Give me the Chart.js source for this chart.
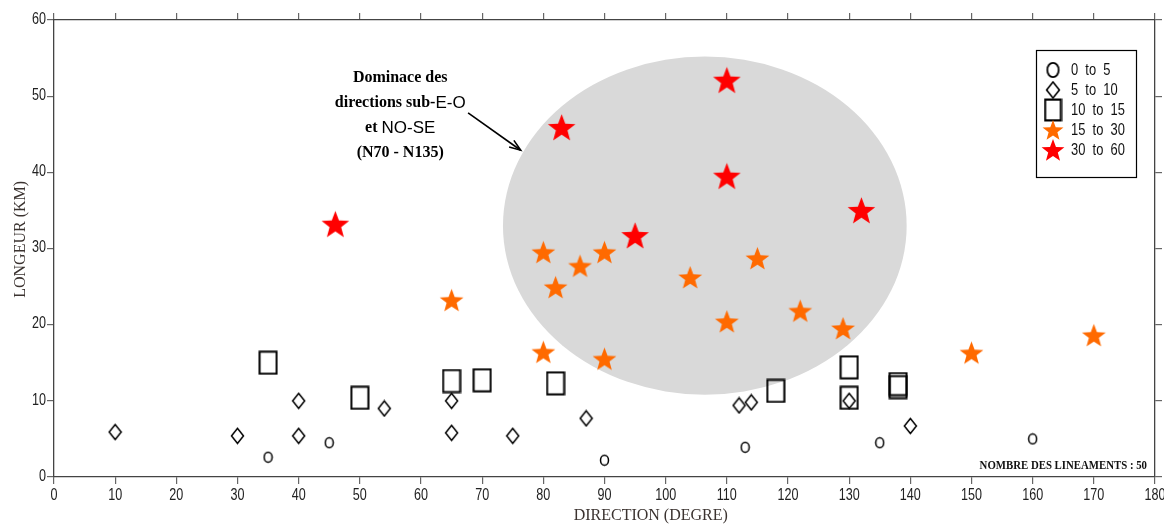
<!DOCTYPE html>
<html><head><meta charset="utf-8">
<script src="https://cdn.jsdelivr.net/npm/chart.js@4/dist/chart.umd.min.js"></script>
<style>html,body{margin:0;padding:0;background:#fff;overflow:hidden;}</style>
</head><body>
<canvas id="c" width="1164" height="525" style="width:1164px;height:525px;display:block"></canvas>
<script>
// ---- data (direction in degrees, length in km) ----
const classLabels = ['0 to 5', '5 to 10', '10 to 15', '15 to 30', '30 to 60'];
const dir0_5   = [35, 45, 90, 113, 135, 160];
const len0_5   = [2.6, 4.5, 2.2, 3.9, 4.5, 5.0];
const dir5_10  = [10, 30, 40, 40, 54, 65, 65, 75, 87, 112, 114, 130, 140];
const len5_10  = [5.9, 5.4, 10, 5.4, 9, 10, 5.8, 5.4, 7.7, 9.4, 9.8, 10, 6.7];
const dir10_15 = [35, 50, 65, 70, 82, 118, 130, 130, 138, 138];
const len10_15 = [15, 10.4, 12.6, 12.7, 12.3, 11.3, 14.4, 10.4, 12.2, 11.8];
const dir15_30 = [65, 80, 80, 82, 86, 90, 90, 104, 110, 115, 122, 129, 150, 170];
const len15_30 = [23.2, 29.5, 16.4, 24.9, 27.7, 29.5, 15.5, 26.2, 20.4, 28.7, 21.8, 19.5, 16.3, 18.6];
const dir30_60 = [46, 83, 95, 110, 110, 132];
const len30_60 = [33.2, 45.9, 31.7, 52.1, 39.5, 35.0];
const xTicks = [0,10,20,30,40,50,60,70,80,90,100,110,120,130,140,150,160,170,180];
const yTicks = [0,10,20,30,40,50,60];
const lineamentCount = 50;

// ---- marker images ----
function mk(w, h, fn) {
  const cv = document.createElement('canvas'); cv.width = w; cv.height = h;
  const g = cv.getContext('2d'); fn(g, w, h); return cv;
}
function ellipseImg(w, h, lw) {
  return mk(w, h, (g) => { g.strokeStyle = '#000'; g.lineWidth = lw; g.beginPath();
    g.ellipse(w/2, h/2, w/2 - lw, h/2 - lw, 0, 0, Math.PI*2); g.stroke(); });
}
function diamondImg(w, h, lw) {
  return mk(w, h, (g) => { g.strokeStyle = '#000'; g.lineWidth = lw; g.beginPath();
    g.moveTo(w/2, lw); g.lineTo(w - lw, h/2); g.lineTo(w/2, h - lw); g.lineTo(lw, h/2); g.closePath(); g.stroke(); });
}
function rectImg(w, h, lw) {
  return mk(w, h, (g) => { g.strokeStyle = '#000'; g.lineWidth = lw; g.strokeRect(lw/2+0.5, lw/2+0.5, w - lw - 1, h - lw - 1); });
}
function starImg(R, color) {
  const s = Math.ceil(R*2 + 2);
  return mk(s, s, (g) => { g.fillStyle = color; g.beginPath();
    const cx = s/2, cy = s/2 + R*0.08, r = R*0.42;
    for (let i = 0; i < 10; i++) {
      const a = -Math.PI/2 + i*Math.PI/5; const rr = i % 2 ? r : R;
      const px = cx + rr*Math.cos(a), py = cy + rr*Math.sin(a);
      i ? g.lineTo(px, py) : g.moveTo(px, py);
    }
    g.closePath(); g.fill(); });
}
const mCircle = ellipseImg(11, 13, 1.5);
const mDiamond = diamondImg(15, 18, 1.5);
const mRect = rectImg(20, 25, 2);
const mStarO = starImg(12.5, '#ff6a00');
const mStarR = starImg(14.5, '#ff0000');
const legCircle = ellipseImg(15, 18, 1.8);
const legDiamond = diamondImg(16, 19, 1.6);
const legRect = rectImg(19, 24, 2.2);
const legStarO = starImg(11, '#ff6a00');
const legStarR = starImg(12, '#ff0000');

function pts(xs, ys) { return xs.map((x, i) => ({x: x, y: ys[i]})); }

const sansFam = '"Liberation Sans", Arial, sans-serif';
const serif = '"Liberation Serif", "Times New Roman", serif';

// narrow text helper (horizontally condensed like Arial Narrow)
function narrowText(ctx, txt, x, y, align, sx) {
  const w = ctx.measureText(txt).width * sx;
  let left = align === 'center' ? x - w/2 : align === 'right' ? x - w : x;
  ctx.save(); ctx.textAlign = 'left'; ctx.translate(left, y); ctx.scale(sx, 1);
  ctx.fillText(txt, 0, 0); ctx.restore();
}

// ---- annotation anchors (data coordinates) ----
const ellipseCenter = {x: 106.4, y: 33.0};
const ellipseRadius = {x: 33.0, y: 22.2};
const noteAnchor = {x: 56.6, y: 52.4};
const arrowFrom = {x: 67.7, y: 47.8};
const arrowTo = {x: 76.3, y: 42.9};

const overlay = {
  id: 'overlay',
  beforeDatasetsDraw(chart) {
    const {ctx, scales: {x, y}} = chart;
    const cx = x.getPixelForValue(ellipseCenter.x), cy = y.getPixelForValue(ellipseCenter.y);
    const rx = x.getPixelForValue(ellipseCenter.x + ellipseRadius.x) - cx;
    const ry = cy - y.getPixelForValue(ellipseCenter.y + ellipseRadius.y);
    ctx.save(); ctx.fillStyle = '#d9d9d9'; ctx.beginPath();
    ctx.ellipse(cx, cy, rx, ry, 0, 0, Math.PI*2); ctx.fill(); ctx.restore();
  },
  afterDraw(chart) {
    const {ctx, scales: {x, y}, chartArea: ca} = chart;
    ctx.save();
    // tick labels (condensed)
    ctx.font = '17px ' + sansFam; ctx.fillStyle = '#222'; ctx.textBaseline = 'middle';
    xTicks.forEach(v => narrowText(ctx, String(v), x.getPixelForValue(v), ca.bottom + 18, 'center', 0.74));
    yTicks.forEach(v => narrowText(ctx, String(v), ca.left - 8, y.getPixelForValue(v) - 1, 'right', 0.74));
    // annotation text
    const nx = x.getPixelForValue(noteAnchor.x);
    let ny = y.getPixelForValue(noteAnchor.y);
    const bold = 'bold 16px ' + serif, sans = '17px ' + sansFam;
    const lines = [
      [['Dominace des', bold]],
      [['directions sub-', bold], ['E-O', sans]],
      [['et ', bold], ['NO-SE', sans]],
      [['(N70 - N135)', bold]]
    ];
    ctx.fillStyle = '#000'; ctx.textBaseline = 'middle'; ctx.textAlign = 'left';
    lines.forEach((runs, i) => {
      let w = 0; runs.forEach(r => { ctx.font = r[1]; w += ctx.measureText(r[0]).width; });
      let px = nx - w/2;
      runs.forEach(r => { ctx.font = r[1]; ctx.fillText(r[0], px, ny + i*25); px += ctx.measureText(r[0]).width; });
    });
    // arrow
    const ax1 = x.getPixelForValue(arrowFrom.x), ay1 = y.getPixelForValue(arrowFrom.y);
    const ax2 = x.getPixelForValue(arrowTo.x), ay2 = y.getPixelForValue(arrowTo.y);
    ctx.strokeStyle = '#000'; ctx.lineWidth = 1.6;
    ctx.beginPath(); ctx.moveTo(ax1, ay1); ctx.lineTo(ax2, ay2); ctx.stroke();
    const ang = Math.atan2(ay2 - ay1, ax2 - ax1), hl = 12;
    ctx.beginPath();
    ctx.moveTo(ax2 - hl*Math.cos(ang - 0.35), ay2 - hl*Math.sin(ang - 0.35)); ctx.lineTo(ax2, ay2);
    ctx.lineTo(ax2 - hl*Math.cos(ang + 0.35), ay2 - hl*Math.sin(ang + 0.35)); ctx.stroke();
    // legend box
    const lx = ca.right - 119, ly = ca.top + 30, lw = 100, lh = 127;
    ctx.fillStyle = '#fff'; ctx.fillRect(lx, ly, lw, lh);
    ctx.strokeStyle = '#000'; ctx.lineWidth = 1.2; ctx.strokeRect(lx + 0.5, ly + 0.5, lw, lh);
    const icons = [legCircle, legDiamond, legRect, legStarO, legStarR];
    ctx.font = '17px ' + sansFam;
    ctx.fillStyle = '#111'; ctx.textBaseline = 'middle';
    classLabels.forEach((lab, i) => {
      const ry = ly + 20 + i*20;
      const im = icons[i];
      ctx.drawImage(im, lx + 17 - im.width/2, ry - im.height/2);
      narrowText(ctx, lab.replace(/ to /, '  to  '), lx + 35, ry, 'left', 0.76);
    });
    // count note
    ctx.font = 'bold 12px ' + serif; ctx.textBaseline = 'alphabetic';
    ctx.fillStyle = '#111';
    narrowText(ctx, 'NOMBRE DES LINEAMENTS : ' + lineamentCount, ca.right - 8, ca.bottom - 8, 'right', 0.9);
    // axis titles
    ctx.font = '16px ' + serif; ctx.fillStyle = '#3b3330';
    ctx.textAlign = 'center'; ctx.textBaseline = 'middle';
    ctx.fillText('DIRECTION (DEGRE)', ca.left + (ca.right - ca.left)*0.542, 516);
    ctx.translate(21, ca.top + (ca.bottom - ca.top)*0.48); ctx.rotate(-Math.PI/2);
    ctx.fillText('LONGEUR (KM)', 0, 0);
    ctx.restore();
  }
};

const gridOff = (tl) => ({drawOnChartArea: false, drawTicks: true, tickLength: tl, color: '#666', lineWidth: 1.2});
const border = {display: true, color: '#444', width: 1.3};
const noPad = (s) => { s.paddingLeft = 0; s.paddingRight = 0; s.paddingTop = 0; s.paddingBottom = 0; };

new Chart(document.getElementById('c'), {
  type: 'scatter',
  data: {
    datasets: [
      {label: classLabels[0], data: pts(dir0_5, len0_5), pointStyle: mCircle},
      {label: classLabels[1], data: pts(dir5_10, len5_10), pointStyle: mDiamond},
      {label: classLabels[2], data: pts(dir10_15, len10_15), pointStyle: mRect},
      {label: classLabels[3], data: pts(dir15_30, len15_30), pointStyle: mStarO},
      {label: classLabels[4], data: pts(dir30_60, len30_60), pointStyle: mStarR}
    ]
  },
  options: {
    responsive: false, animation: false, devicePixelRatio: 1,
    layout: {padding: 0},
    plugins: {legend: {display: false}, tooltip: {enabled: false}},
    scales: {
      x: {type: 'linear', position: 'bottom', min: 0, max: 180,
          afterBuildTicks: (s) => { s.ticks = xTicks.map(v => ({value: v})); },
          ticks: {display: false}, grid: gridOff(7), border: border,
          afterFit: (s) => { s.height = 48; noPad(s); }},
      x2: {type: 'linear', position: 'top', min: 0, max: 180,
          afterBuildTicks: (s) => { s.ticks = xTicks.map(v => ({value: v})); },
          ticks: {display: false}, grid: gridOff(7), border: border,
          afterFit: (s) => { s.height = 20; noPad(s); }},
      y: {type: 'linear', position: 'left', min: 0, max: 60,
          afterBuildTicks: (s) => { s.ticks = yTicks.map(v => ({value: v})); },
          ticks: {display: false}, grid: gridOff(7), border: border,
          afterFit: (s) => { s.width = 54; noPad(s); }},
      y2: {type: 'linear', position: 'right', min: 0, max: 60,
          afterBuildTicks: (s) => { s.ticks = yTicks.map(v => ({value: v})); },
          ticks: {display: false}, grid: gridOff(7), border: border,
          afterFit: (s) => { s.width = 9; noPad(s); }}
    }
  },
  plugins: [overlay]
});
</script>
</body></html>
